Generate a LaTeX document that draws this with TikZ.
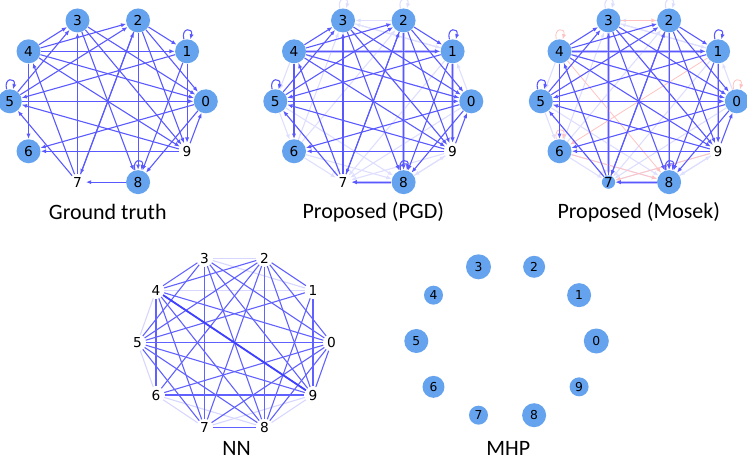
\documentclass[tikz,border=0pt]{standalone}
\usepackage{fontspec}
\newfontfamily\dejavu{DejaVu Sans}
\newfontfamily\capfont{Carlito}
\usetikzlibrary{arrows.meta}
\definecolor{vtxblue}{RGB}{102,163,238}

\begin{document}
\begin{tikzpicture}[x=0.02cm, y=-0.02cm, vtx/.style={circle, fill=vtxblue, inner sep=0pt, minimum size=0.48cm, font=\dejavu\fontsize{7.8}{8}\selectfont}, bare/.style={vtx, fill=none, minimum size=0pt, inner sep=0.6pt}, small/.style={vtx, minimum size=0.2cm}, link/.style={color=blue!65, line width=0.62pt, -{Latex[length=3pt, width=2.4pt]}}, faint/.style={link, color=blue!13}, wide/.style={link, color=blue!26, line width=1.6pt}, redlink/.style={link, color=red!24, line width=0.45pt}, plain/.style={color=blue!62, line width=0.62pt}, pale/.style={plain, color=blue!16}, caption/.style={font=\capfont\fontsize{12.5}{14}\selectfont}]
\useasboundingbox (0,0) rectangle (747,459);
\foreach \p/\cx/\sev in {g/107.8/bare, p/373.3/bare, m/638.8/small} {\foreach \i/\st in {0/vtx, 1/vtx, 2/vtx, 3/vtx, 4/vtx, 5/vtx, 6/vtx, 8/vtx, 9/bare} {\node[\st] (\p\i) at ({\cx+98*cos(36*\i)},{101.3-85*sin(36*\i)}){\i};} \node[\sev] (\p7) at ({\cx+98*cos(252)},{101.3-85*sin(252)}){7};}
\foreach \i in {0,...,9} {\node[bare] (n\i) at ({234.5+97*cos(36*\i)},{342.7-89*sin(36*\i)}){\i};}
\foreach \i/\s in {0/25, 1/24, 2/22, 3/25, 4/19, 5/24, 6/22, 7/19, 8/24, 9/19} {\node[vtx, minimum size=\s*0.02cm, font=\dejavu\fontsize{7}{7}\selectfont] (h\i) at ({506.3+90*cos(36*\i)},{341-78*sin(36*\i)}){\i};}
\foreach \p in {p,m} {\foreach \a/\b in {3/1, 2/3, 4/5, 5/6, 6/7, 9/7, 0/7, 1/7, 0/1, 8/9, 6/8, 5/8, 6/3, 6/2, 4/7, 5/7, 9/3, 0/4, 1/3, 9/8} {\draw[faint] (\p\a) -- (\p\b);} \foreach \a/\b in {4/1, 2/8, 1/9, 8/7} {\draw[wide] (\p\a) -- (\p\b);} \foreach \a in {2,3} {\path[faint] (\p\a) edge[loop above, min distance=2.5mm] (\p\a);} \path[link] (\p8) edge[loop above, min distance=1.6mm] (\p8);}
\draw[wide] (m3) -- (m7);
\foreach \a/\b in {3/2, 1/6, 4/8, 6/8, 9/7} {\draw[redlink] (m\a) -- (m\b);}
\foreach \a in {4,0,6} {\path[redlink] (m\a) edge[loop above, min distance=2.5mm] (m\a);}
\foreach \p in {g,p,m} {\foreach \a/\b in {4/3, 4/2, 4/1, 4/0, 4/9, 4/6, 7/4, 5/3, 5/2, 1/5, 5/0, 9/5, 7/5, 7/3, 3/9, 3/8, 3/0, 2/1, 2/0, 2/9, 2/8, 7/2, 2/7, 1/9, 1/8, 0/6, 9/0, 0/8, 9/6, 8/7} {\draw[link] (\p\a) -- (\p\b);} \foreach \a in {1,5,8} {\path[link] (\p\a) edge[loop above, min distance=2.5mm] (\p\a);}}
\foreach \a/\b in {4/1, 4/5, 3/2, 3/1, 6/7, 7/9, 8/9, 5/6, 6/8} {\draw[pale] (n\a) -- (n\b);}
\foreach \a/\b in {3/4, 3/5, 3/7, 3/8, 3/9, 3/0, 2/4, 2/5, 2/6, 2/8, 2/7, 2/1, 2/0, 2/9, 4/0, 4/9, 4/6, 4/7, 4/8, 5/1, 5/0, 5/9, 5/7, 5/8, 6/9, 6/0, 7/8, 7/0, 1/9, 1/8, 0/9, 0/8} {\draw[plain] (n\a) -- (n\b);}
\draw[plain, color=blue!75, line width=1pt] (n4) -- (n9);
\node[caption] (gcap) at (107.8,212){Ground truth};
\node[caption] (pcap) at (373.3,212){Proposed (PGD)};
\node[caption] (mcap) at (638.8,212){Proposed (Mosek)};
\node[caption] (ncap) at (236.5,448){NN};
\node[caption] (hcap) at (508.3,448){MHP};
\end{tikzpicture}
\end{document}
